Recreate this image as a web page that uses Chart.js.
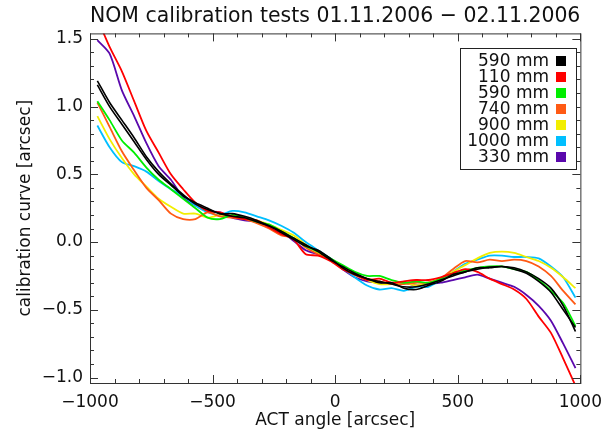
<!DOCTYPE html>
<html lang="en">
<head>
  <meta charset="UTF-8" />
  <title>NOM calibration tests</title>
  <script src="https://cdn.jsdelivr.net/npm/chart.js"></script>
  <style>
    body { margin: 0; background: #fff; }
    canvas { display: block; }
  </style>
</head>
<body>
  <canvas id="nomChart" width="611" height="437"></canvas>

  <script>
    // ACT angle [arcsec] sample positions
    const angle = [-970, -920, -870, -820, -770, -720, -670, -620, -570, -520,
                   -470, -420, -370, -320, -270, -220, -170, -120, -70, -20,
                   30, 80, 130, 180, 230, 280, 330, 380, 430, 480,
                   530, 580, 630, 680, 730, 780, 830, 880, 930, 980];

    // calibration curves [arcsec]
    const black590 = [1.19, 1.03, 0.90, 0.77, 0.63, 0.52, 0.43, 0.35, 0.28, 0.24,
                      0.21, 0.19, 0.18, 0.15, 0.12, 0.08, 0.03, -0.02, -0.07, -0.13,
                      -0.18, -0.23, -0.27, -0.29, -0.31, -0.33, -0.33, -0.31, -0.28, -0.25,
                      -0.22, -0.20, -0.185, -0.18, -0.19, -0.22, -0.27, -0.34, -0.47, -0.66];
    const black590b = [1.16, 1.00, 0.87, 0.74, 0.61, 0.50, 0.42, 0.34, 0.29, 0.25,
                       0.21, 0.21, 0.19, 0.16, 0.12, 0.07, 0.02, -0.03, -0.06, -0.12,
                       -0.19, -0.24, -0.27, -0.30, -0.30, -0.34, -0.35, -0.32, -0.29, -0.24,
                       -0.22, -0.19, -0.19, -0.18, -0.20, -0.23, -0.29, -0.37, -0.50, -0.63];
    const red110 = [1.65, 1.44, 1.26, 1.04, 0.82, 0.66, 0.50, 0.39, 0.29, 0.23,
                    0.22, 0.19, 0.17, 0.16, 0.11, 0.06, 0.02, -0.09, -0.10, -0.14,
                    -0.20, -0.24, -0.28, -0.27, -0.30, -0.29, -0.28, -0.28, -0.26, -0.23,
                    -0.20, -0.22, -0.27, -0.31, -0.35, -0.42, -0.55, -0.67, -0.86, -1.06];
    const green590 = [1.04, 0.90, 0.75, 0.66, 0.55, 0.46, 0.39, 0.32, 0.25, 0.18,
                      0.17, 0.20, 0.18, 0.15, 0.13, 0.08, 0.03, -0.03, -0.07, -0.12,
                      -0.17, -0.22, -0.25, -0.25, -0.28, -0.30, -0.29, -0.30, -0.27, -0.23,
                      -0.21, -0.19, -0.18, -0.18, -0.20, -0.22, -0.28, -0.36, -0.45, -0.62];
    const orange740 = [1.03, 0.85, 0.67, 0.53, 0.40, 0.31, 0.21, 0.17, 0.17, 0.22,
                       0.19, 0.18, 0.17, 0.14, 0.10, 0.05, 0.03, -0.04, -0.09, -0.13,
                       -0.19, -0.24, -0.27, -0.29, -0.31, -0.31, -0.30, -0.30, -0.27, -0.20,
                       -0.14, -0.15, -0.13, -0.14, -0.13, -0.14, -0.18, -0.25, -0.36, -0.46];
    const yellow900 = [0.93, 0.76, 0.62, 0.50, 0.41, 0.32, 0.26, 0.21, 0.21, 0.18,
                       0.20, 0.19, 0.18, 0.16, 0.13, 0.09, 0.05, -0.02, -0.08, -0.13,
                       -0.19, -0.24, -0.28, -0.31, -0.31, -0.30, -0.32, -0.30, -0.27, -0.22,
                       -0.17, -0.12, -0.08, -0.07, -0.08, -0.11, -0.14, -0.19, -0.26, -0.34];
    const cyan1000 = [0.86, 0.70, 0.59, 0.56, 0.52, 0.45, 0.39, 0.34, 0.27, 0.22,
                      0.20, 0.23, 0.22, 0.19, 0.16, 0.12, 0.07, 0.00, -0.06, -0.12,
                      -0.19, -0.26, -0.32, -0.35, -0.34, -0.36, -0.33, -0.33, -0.28, -0.22,
                      -0.16, -0.13, -0.10, -0.10, -0.11, -0.11, -0.12, -0.18, -0.26, -0.41];
    const purple330 = [1.49, 1.39, 1.12, 0.93, 0.73, 0.56, 0.46, 0.33, 0.27, 0.23,
                       0.22, 0.18, 0.16, 0.15, 0.12, 0.08, 0.01, -0.06, -0.09, -0.13,
                       -0.20, -0.26, -0.29, -0.30, -0.31, -0.30, -0.32, -0.31, -0.30, -0.28,
                       -0.26, -0.24, -0.27, -0.30, -0.33, -0.39, -0.47, -0.58, -0.75, -0.93];

    const xTicks = [-1000, -500, 0, 500, 1000];
    const yTicks = [-1.0, -0.5, 0.0, 0.5, 1.0, 1.5];

    const series = [
      { label: '590 mm', values: black590, color: '#000000' },
      { label: '', values: black590b, color: '#000000', noLegend: true },
      { label: '110 mm', values: red110, color: '#ff0000' },
      { label: '590 mm', values: green590, color: '#00ee00' },
      { label: '740 mm', values: orange740, color: '#ff5a14' },
      { label: '900 mm', values: yellow900, color: '#f2ee00' },
      { label: '1000 mm', values: cyan1000, color: '#00bfff' },
      { label: '330 mm', values: purple330, color: '#5a08ac' }
    ];

    const minus = s => s.replace('-', '\u2212');

    // IDL style box: frame, inward ticks, legend box in top-right corner
    const idlBox = {
      id: 'idlBox',
      afterDraw(chart) {
        const { ctx, chartArea: a, scales: { x, y } } = chart;
        ctx.save();
        ctx.strokeStyle = '#333';
        ctx.lineWidth = 1;
        ctx.strokeRect(a.left + 0.5, a.top + 0.5, a.right - a.left, a.bottom - a.top);

        ctx.beginPath();
        for (let v = -1000; v <= 1000; v += 100) {
          const px = Math.round(x.getPixelForValue(v)) + 0.5;
          const len = v % 500 === 0 ? 8 : 4;
          ctx.moveTo(px, a.bottom); ctx.lineTo(px, a.bottom - len);
          ctx.moveTo(px, a.top); ctx.lineTo(px, a.top + len);
        }
        for (let i = -10; i <= 15; i++) {
          const py = Math.round(y.getPixelForValue(i / 10)) + 0.5;
          const len = i % 5 === 0 ? 8 : 4;
          ctx.moveTo(a.left, py); ctx.lineTo(a.left + len, py);
          ctx.moveTo(a.right, py); ctx.lineTo(a.right - len, py);
        }
        ctx.stroke();

        // legend
        const items = chart.data.datasets.filter(d => !d.noLegend);
        const bx = 460.5, by = 48.5, bw = 116, bh = 121;
        ctx.fillStyle = '#fff';
        ctx.fillRect(bx, by, bw, bh);
        ctx.strokeStyle = '#222';
        ctx.strokeRect(bx, by, bw, bh);
        ctx.font = '17px "DejaVu Sans"';
        ctx.textAlign = 'right';
        ctx.textBaseline = 'middle';
        items.forEach((d, i) => {
          const ty = 61 + i * 16;
          ctx.fillStyle = '#111';
          ctx.fillText(d.label, 549, ty + 1);
          ctx.fillStyle = d.borderColor;
          ctx.fillRect(556, ty - 5, 10, 10);
        });
        ctx.restore();
      }
    };

    Chart.defaults.font.family = '"DejaVu Sans", sans-serif';
    Chart.defaults.color = '#111';

    new Chart(document.getElementById('nomChart'), {
      type: 'line',
      data: {
        datasets: series.map(s => ({
          label: s.label,
          noLegend: s.noLegend,
          data: angle.map((a, i) => ({ x: a, y: s.values[i] })),
          borderColor: s.color,
          backgroundColor: s.color,
          borderWidth: s.color === '#000000' ? 1.6 : 1.8,
          pointRadius: 0,
          tension: 0.25,
          fill: false
        }))
      },
      options: {
        responsive: false,
        devicePixelRatio: 1,
        animation: false,
        layout: { padding: { left: 0, right: 26, top: 0, bottom: 0 } },
        plugins: {
          legend: { display: false },
          tooltip: { enabled: false },
          title: {
            display: true,
            fullSize: false,
            text: 'NOM calibration tests 01.11.2006 \u2212 02.11.2006',
            font: { size: 22, weight: 'normal' },
            color: '#111',
            padding: { top: 3, bottom: 4 }
          }
        },
        scales: {
          x: {
            type: 'linear',
            min: -1000,
            max: 1000,
            afterFit: s => { s.height = 54; },
            afterBuildTicks: s => { s.ticks = xTicks.map(v => ({ value: v })); },
            grid: { display: false, drawTicks: false },
            border: { display: false },
            ticks: {
              font: { size: 17 },
              padding: 9,
              maxRotation: 0,
              callback: v => minus(String(v))
            },
            title: {
              display: true,
              text: 'ACT angle [arcsec]',
              font: { size: 17 },
              padding: { top: 0, bottom: 6 }
            }
          },
          y: {
            min: -1.04,
            max: 1.54,
            afterFit: s => { s.width = 90; },
            afterBuildTicks: s => { s.ticks = yTicks.map(v => ({ value: v })); },
            grid: { display: false, drawTicks: false },
            border: { display: false },
            ticks: {
              font: { size: 17 },
              padding: 7,
              callback: v => minus(Number(v).toFixed(1))
            },
            title: {
              display: true,
              text: 'calibration curve [arcsec]',
              font: { size: 17 },
              padding: { top: 15, bottom: 0 }
            }
          }
        }
      },
      plugins: [idlBox]
    });
  </script>
</body>
</html>
